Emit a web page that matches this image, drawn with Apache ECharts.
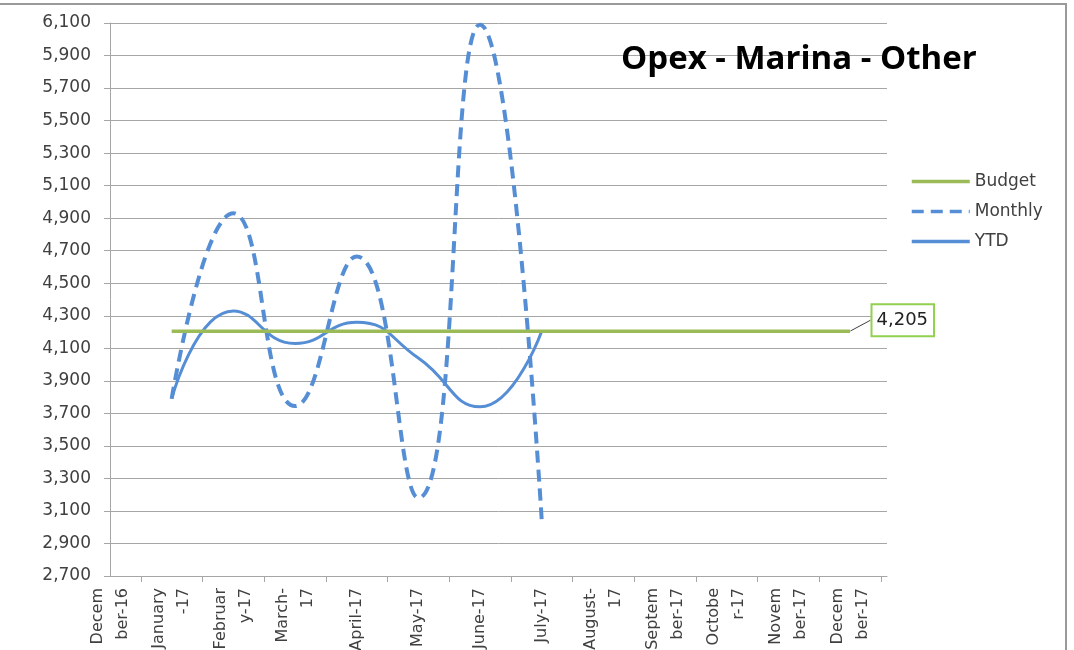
<!DOCTYPE html>
<html>
<head>
<meta charset="utf-8">
<script src="https://cdn.jsdelivr.net/npm/echarts@6/dist/echarts.min.js"></script>
<style>
html,body{margin:0;padding:0;background:#fff;}
#c{width:1074px;height:650px;}
</style>
</head>
<body>
<div id="c"></div>
<script>
const categories = ['Decem\nber-16','January\n-17','Februar\ny-17','March-\n17','April-17','May-17','June-17','July-17','August-\n17','Septem\nber-17','Octobe\nr-17','Novem\nber-17','Decem\nber-17'];
// index in categories -> value
const budgetIdx = [1,2,3,4,5,6,7,8,9,10,11,12];
const budget = [4205,4205,4205,4205,4205,4205,4205,4205,4205,4205,4205,4205];
const monthlyIdx = [1,2,3,4,5,6,7];
const monthly = [3790,4930,3745,4665,3180,6090,3050];
const ytdIdx = [1,2,3,4,5,6,7];
const ytd = [3790,4330,4130,4260,4040,3740,4205];
const yTicks = {min:2700, max:6100, step:200};

const pair = (xs, ys) => xs.map((x,i) => [x, ys[i]]);
const budgetData = pair(budgetIdx, budget).map((d,i,a) => i === a.length-1 ? {
  value: d,
  symbol: 'circle', symbolSize: 1,
  itemStyle: {color: 'rgba(0,0,0,0)', borderWidth: 0},
  label: {
    show: true, position: 'right', distance: 22,
    formatter: p => p.value[1].toLocaleString('en-US'),
    fontFamily: 'DejaVu Sans', fontSize: 18, color: '#222',
    backgroundColor: '#fff', borderColor: '#92D050', borderWidth: 2,
    padding: [6,5,6,4]
  },
  labelLine: {show: true, lineStyle: {color: '#404040', width: 1}}
} : d);

const chart = echarts.init(document.getElementById('c'));
const blue = '#558ED5';
chart.setOption({
  animation: false,
  backgroundColor: '#fff',
  title: {
    text: 'Opex - Marina - Other',
    left: 616, top: 38,
    textStyle: {fontFamily: 'Open Sans', fontWeight: 'bold', fontSize: 33, color: '#000'}
  },
  legend: {
    orient: 'vertical', left: 905, top: 168,
    itemWidth: 58, itemHeight: 14, itemGap: 13,
    itemStyle: {opacity: 0},
    lineStyle: {width: 3.5},
    textStyle: {fontFamily: 'DejaVu Sans', fontSize: 17, color: '#404040'},
    data: ['Budget','Monthly','YTD']
  },
  grid: {left: 110, right: 187, top: 23, bottom: 74, outerBoundsMode: 'none', containLabel: false},
  xAxis: {
    type: 'value', min: 0, max: 12.6, interval: 1,
    axisLine: {show: true, lineStyle: {color: '#A6A6A6', width: 1}},
    axisTick: {show: true, length: 6, lineStyle: {color: '#A6A6A6'},
      customValues: categories.map((c,i) => i + 0.5)},
    splitLine: {show: false},
    axisLabel: {
      customValues: categories.map((c,i) => i),
      formatter: v => categories[Math.round(v)] || '',
      rotate: 90, margin: 12,
      fontFamily: 'DejaVu Sans', fontSize: 16, color: '#404040', lineHeight: 25
    }
  },
  yAxis: {
    type: 'value', min: yTicks.min, max: yTicks.max, interval: yTicks.step,
    axisLine: {show: true, lineStyle: {color: '#A6A6A6', width: 1}},
    axisTick: {show: true, length: 6, lineStyle: {color: '#A6A6A6'}},
    splitLine: {show: true, lineStyle: {color: '#A6A6A6', width: 1}},
    axisLabel: {margin: 19, fontFamily: 'DejaVu Sans', fontSize: 17, color: '#404040'}
  },
  series: [
    {name: 'Budget', type: 'line', data: budgetData, symbol: 'none', showSymbol: true,
      color: '#9BBB59', lineStyle: {width: 3.5, color: '#9BBB59'}, z: 3,
      labelLayout: () => ({dy: -11})},
    {name: 'Monthly', type: 'line', data: pair(monthlyIdx, monthly), smooth: 0.5, symbol: 'none',
      color: blue, lineStyle: {width: 4, type: [12, 7], color: blue}, z: 2},
    {name: 'YTD', type: 'line', data: pair(ytdIdx, ytd), smooth: 0.5, symbol: 'none',
      color: blue, lineStyle: {width: 3, color: blue}, z: 2}
  ],
  graphic: [{
    type: 'rect', shape: {x: -10, y: 4, width: 1076, height: 700},
    style: {fill: 'none', stroke: '#9a9a9a', lineWidth: 2}, silent: true, z: 100
  }]
});
</script>
</body>
</html>
